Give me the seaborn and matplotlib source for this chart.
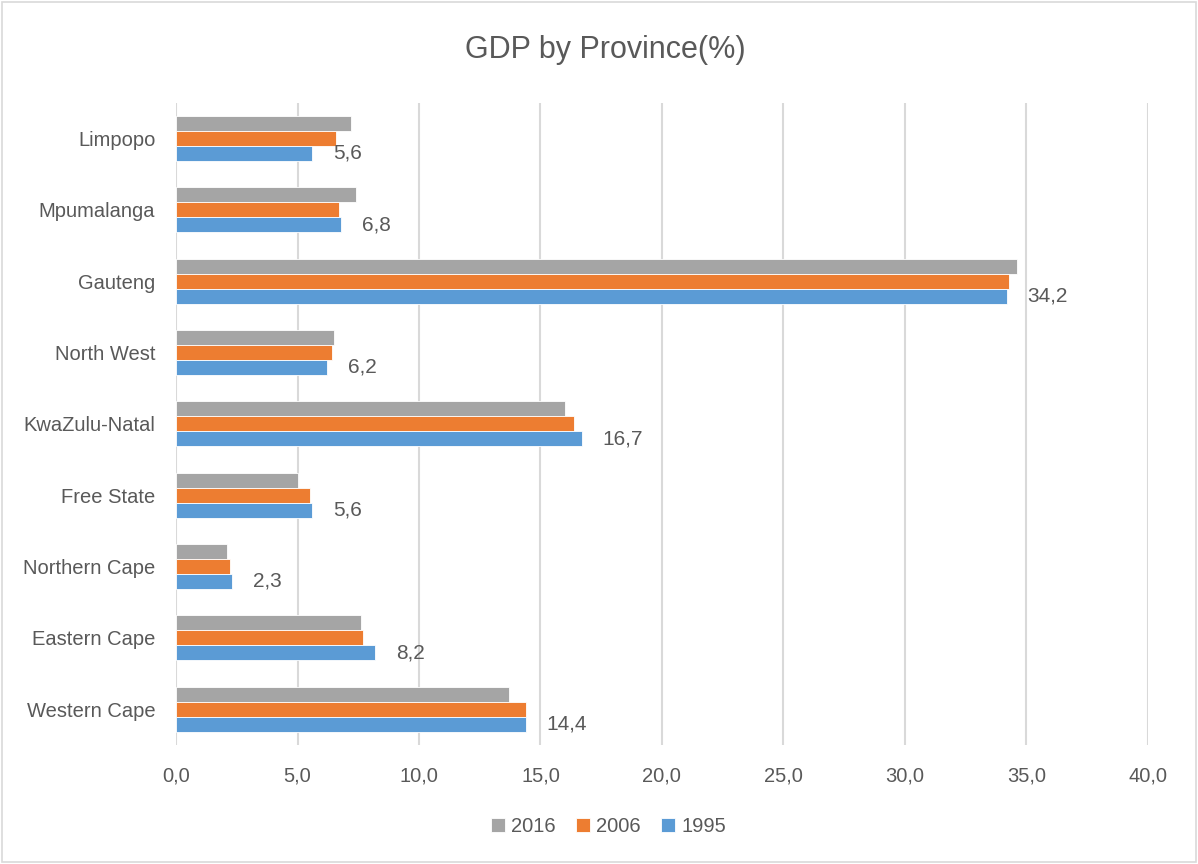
import matplotlib
matplotlib.use("Agg")
import matplotlib.pyplot as plt
import pandas as pd
import seaborn as sns
from matplotlib.patches import Rectangle

provinces = ["Limpopo", "Mpumalanga", "Gauteng", "North West", "KwaZulu-Natal",
             "Free State", "Northern Cape", "Eastern Cape", "Western Cape"]
years = ["2016", "2006", "1995"]
gdp_2016 = [7.2, 7.4, 34.6, 6.5, 16.0, 5.0, 2.1, 7.6, 13.7]
gdp_2006 = [6.6, 6.7, 34.3, 6.4, 16.4, 5.5, 2.2, 7.7, 14.4]
gdp_1995 = [5.6, 6.8, 34.2, 6.2, 16.7, 5.6, 2.3, 8.2, 14.4]
x_ticks = [0, 5, 10, 15, 20, 25, 30, 35, 40]

colors = {"2016": "#A5A5A5", "2006": "#ED7D31", "1995": "#5B9BD5"}
text_color = "#595959"

df = pd.DataFrame({
    "province": provinces * 3,
    "year": ["2016"] * 9 + ["2006"] * 9 + ["1995"] * 9,
    "gdp": gdp_2016 + gdp_2006 + gdp_1995,
})

sns.set_theme(style="white")
plt.rcParams["font.family"] = ["Liberation Sans", "DejaVu Sans"]

fig = plt.figure(figsize=(11.98, 8.64), dpi=100)
ax = fig.add_axes([0.147, 0.138, 0.811, 0.743])

sns.barplot(data=df, x="gdp", y="province", hue="year", order=provinces,
            hue_order=years, palette=colors, orient="h", width=0.63,
            edgecolor="white", linewidth=0.6, saturation=1, ax=ax)

# labels on the 1995 series only
ax.bar_label(ax.containers[2], labels=[f"{v:.1f}".replace(".", ",") for v in gdp_1995],
             padding=15, fontsize=15, color=text_color)

ax.set_xlim(0, 40)
ax.set_xticks(x_ticks)
ax.set_xticklabels([f"{t:.1f}".replace(".", ",") for t in x_ticks])
ax.xaxis.grid(True, color="#D9D9D9", linewidth=1.5)
ax.set_axisbelow(True)
for side in ["top", "right", "bottom", "left"]:
    ax.spines[side].set_visible(False)
ax.tick_params(axis="x", labelsize=14.5, colors=text_color, pad=16, length=0)
ax.tick_params(axis="y", labelsize=14.5, colors=text_color, pad=15, length=0)
ax.set_xlabel("")
ax.set_ylabel("")

fig.text(0.505, 0.942, "GDP by Province(%)", fontsize=22, color=text_color,
         ha="center", va="center")

ax.legend(loc="upper center", bbox_to_anchor=(0.445, -0.085), ncol=3, frameon=False,
          fontsize=14.5, handlelength=0.7, handleheight=0.7, handletextpad=0.3,
          columnspacing=1.0, labelcolor=text_color)

fig.patches.append(Rectangle((0.002, 0.002), 0.996, 0.996, transform=fig.transFigure,
                             fill=False, edgecolor="#D9D9D9", linewidth=1.2))

fig.savefig("out.png", dpi=100)
